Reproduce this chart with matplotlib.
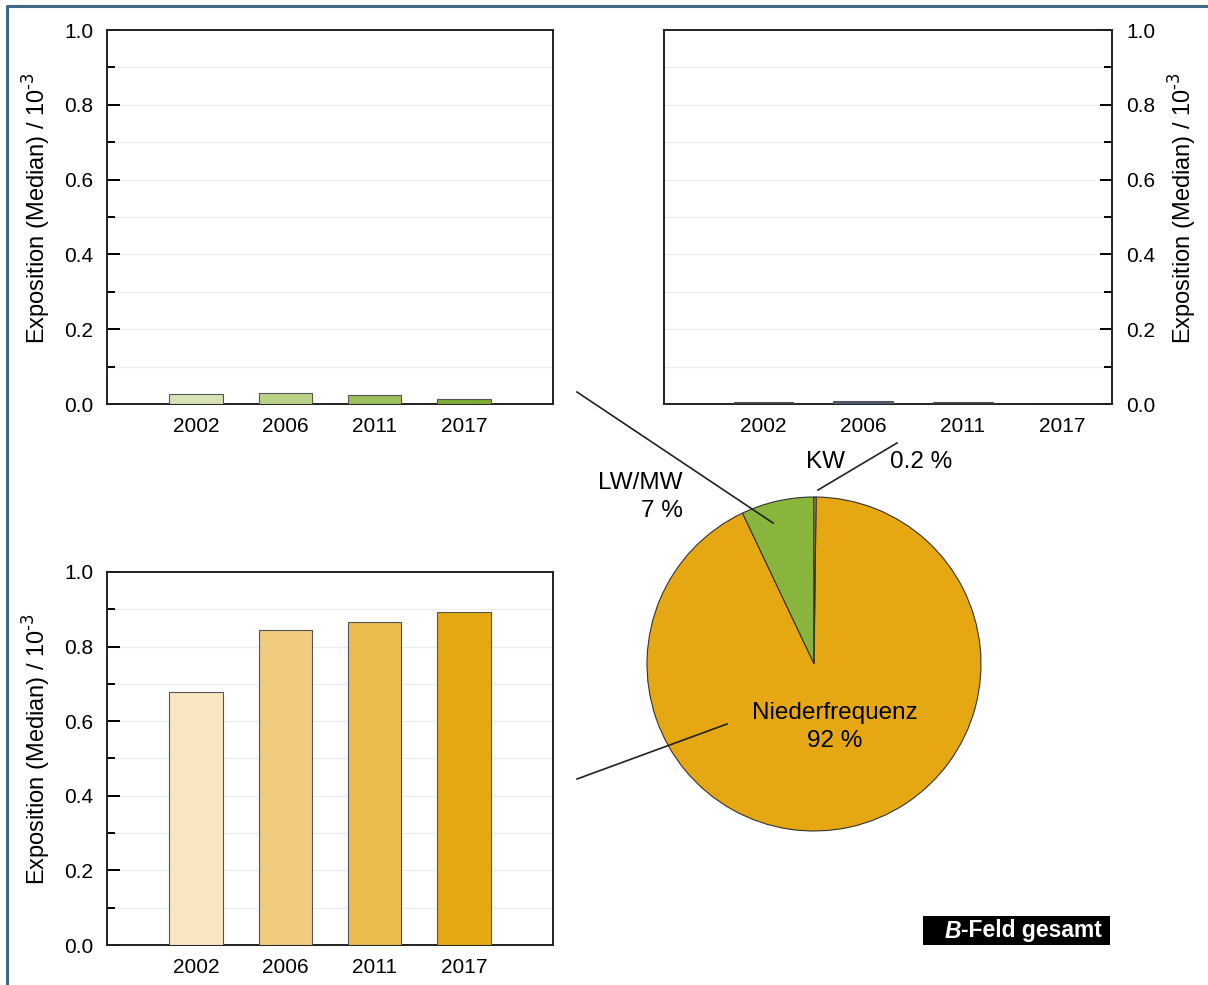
import numpy as np
import matplotlib.pyplot as plt

plt.rcParams['font.family'] = ['Liberation Sans', 'DejaVu Sans']

# data (median exposure / 10^-3)
years = ['2002', '2006', '2011', '2017']
lwmw = [0.027, 0.030, 0.025, 0.013]
kw = [0.006, 0.007, 0.005, 0.0]
nf = [0.678, 0.845, 0.866, 0.892]

# share of total exposure (%)
pie_labels = ['LW/MW', 'Niederfrequenz', 'KW']
pie_vals = [7, 92, 0.2]

lw_cols = ['#d6e3b4', '#b9d285', '#9cc15a', '#7eab33']
kw_cols = ['#2f3647', '#4a5a71', '#2c2c2c', '#3a3a3a']
nf_cols = ['#f7e6c1', '#f0cb80', '#ebbc4e', '#e4a812']
pie_cols = ['#8ab53c', '#e5a812', '#e5a812']

ylab = r'Exposition (Median) / 10$^{\text{-3}}$'

fig = plt.figure(figsize=(12.08, 9.85), dpi=100)

# overlay in pixel coordinates for pie, leader lines, frame
ov = fig.add_axes([0, 0, 1, 1])
ov.set_xlim(0, 1208)
ov.set_ylim(985, 0)
ov.axis('off')


def bar_panel(rect, vals, cols, xmax, right=False):
    ax = fig.add_axes(rect)
    x = np.arange(len(years))
    ax.bar(x, vals, width=0.6, color=cols, edgecolor='#555555', linewidth=0.8, zorder=3)
    ax.set_xlim(-1, xmax)
    ax.set_ylim(0, 1.0)
    ax.set_xticks(x)
    ax.set_xticklabels(years)
    ax.set_yticks(np.arange(0, 1.01, 0.2))
    ax.set_yticks(np.arange(0.1, 1.0, 0.2), minor=True)
    ax.set_yticklabels(['%.1f' % v for v in np.arange(0, 1.01, 0.2)])
    for v in np.arange(0.1, 1.0, 0.1):
        ax.axhline(v, color='#ececec', lw=0.8, zorder=0)
    for s in ax.spines.values():
        s.set_linewidth(1.4)
        s.set_color('#222222')
    ax.tick_params(axis='x', length=0, pad=9, labelsize=15)
    ax.tick_params(axis='y', which='major', direction='in', length=9, width=1.4, pad=10, labelsize=15)
    ax.tick_params(axis='y', which='minor', direction='in', length=5.5, width=1.4)
    if right:
        ax.yaxis.tick_right()
        ax.yaxis.set_label_position('right')
        ax.tick_params(axis='y', which='both', left=False, right=True)
    ax.set_ylabel(ylab, fontsize=17, labelpad=8, y=0.525)
    return ax


bar_panel([0.0886, 0.5898, 0.3692, 0.3797], lwmw, lw_cols, 4.0)
bar_panel([0.5497, 0.5898, 0.3709, 0.3797], kw, kw_cols, 3.5, right=True)
bar_panel([0.0886, 0.0406, 0.3692, 0.3787], nf, nf_cols, 4.0)

# pie (y axis of overlay is inverted, so go clockwise to get counterclockwise on screen)
ov.pie(pie_vals, colors=pie_cols, startangle=-90, counterclock=False,
       center=(814, 664), radius=167, frame=True,
       wedgeprops=dict(edgecolor='#333333', linewidth=0.8))
ov.set_xlim(0, 1208)
ov.set_ylim(985, 0)
ov.set_aspect('auto')
ov.axis('off')

ov.text(683, 497, 'LW/MW\n7 %', ha='right', va='center', multialignment='right',
        fontsize=17.5, linespacing=1.4)
ov.text(825, 462, 'KW', ha='center', va='center', fontsize=17.5)
ov.text(921, 462, '0.2 %', ha='center', va='center', fontsize=17.5)
ov.text(835, 727, 'Niederfrequenz\n92 %', ha='center', va='center',
        fontsize=17.5, linespacing=1.3)

ov.plot([577, 773], [392, 523], color='#222222', lw=1.2)
ov.plot([818, 897], [490, 443], color='#222222', lw=1.2)
ov.plot([577, 727], [779, 724], color='#222222', lw=1.2)

# label box
ov.add_patch(plt.Rectangle((923, 916), 187, 29, facecolor='black', edgecolor='none'))
ov.text(961, 931, 'B', ha='right', va='center', color='white', fontsize=16.5,
        fontweight='bold', fontstyle='italic')
ov.text(961, 931, '-Feld gesamt', ha='left', va='center', color='white',
        fontsize=16.5, fontweight='bold')

# frame
ov.plot([7, 7, 1208], [985, 6, 6], color='#3e6886', lw=2.2, clip_on=False)

fig.savefig('out.png', dpi=100)
